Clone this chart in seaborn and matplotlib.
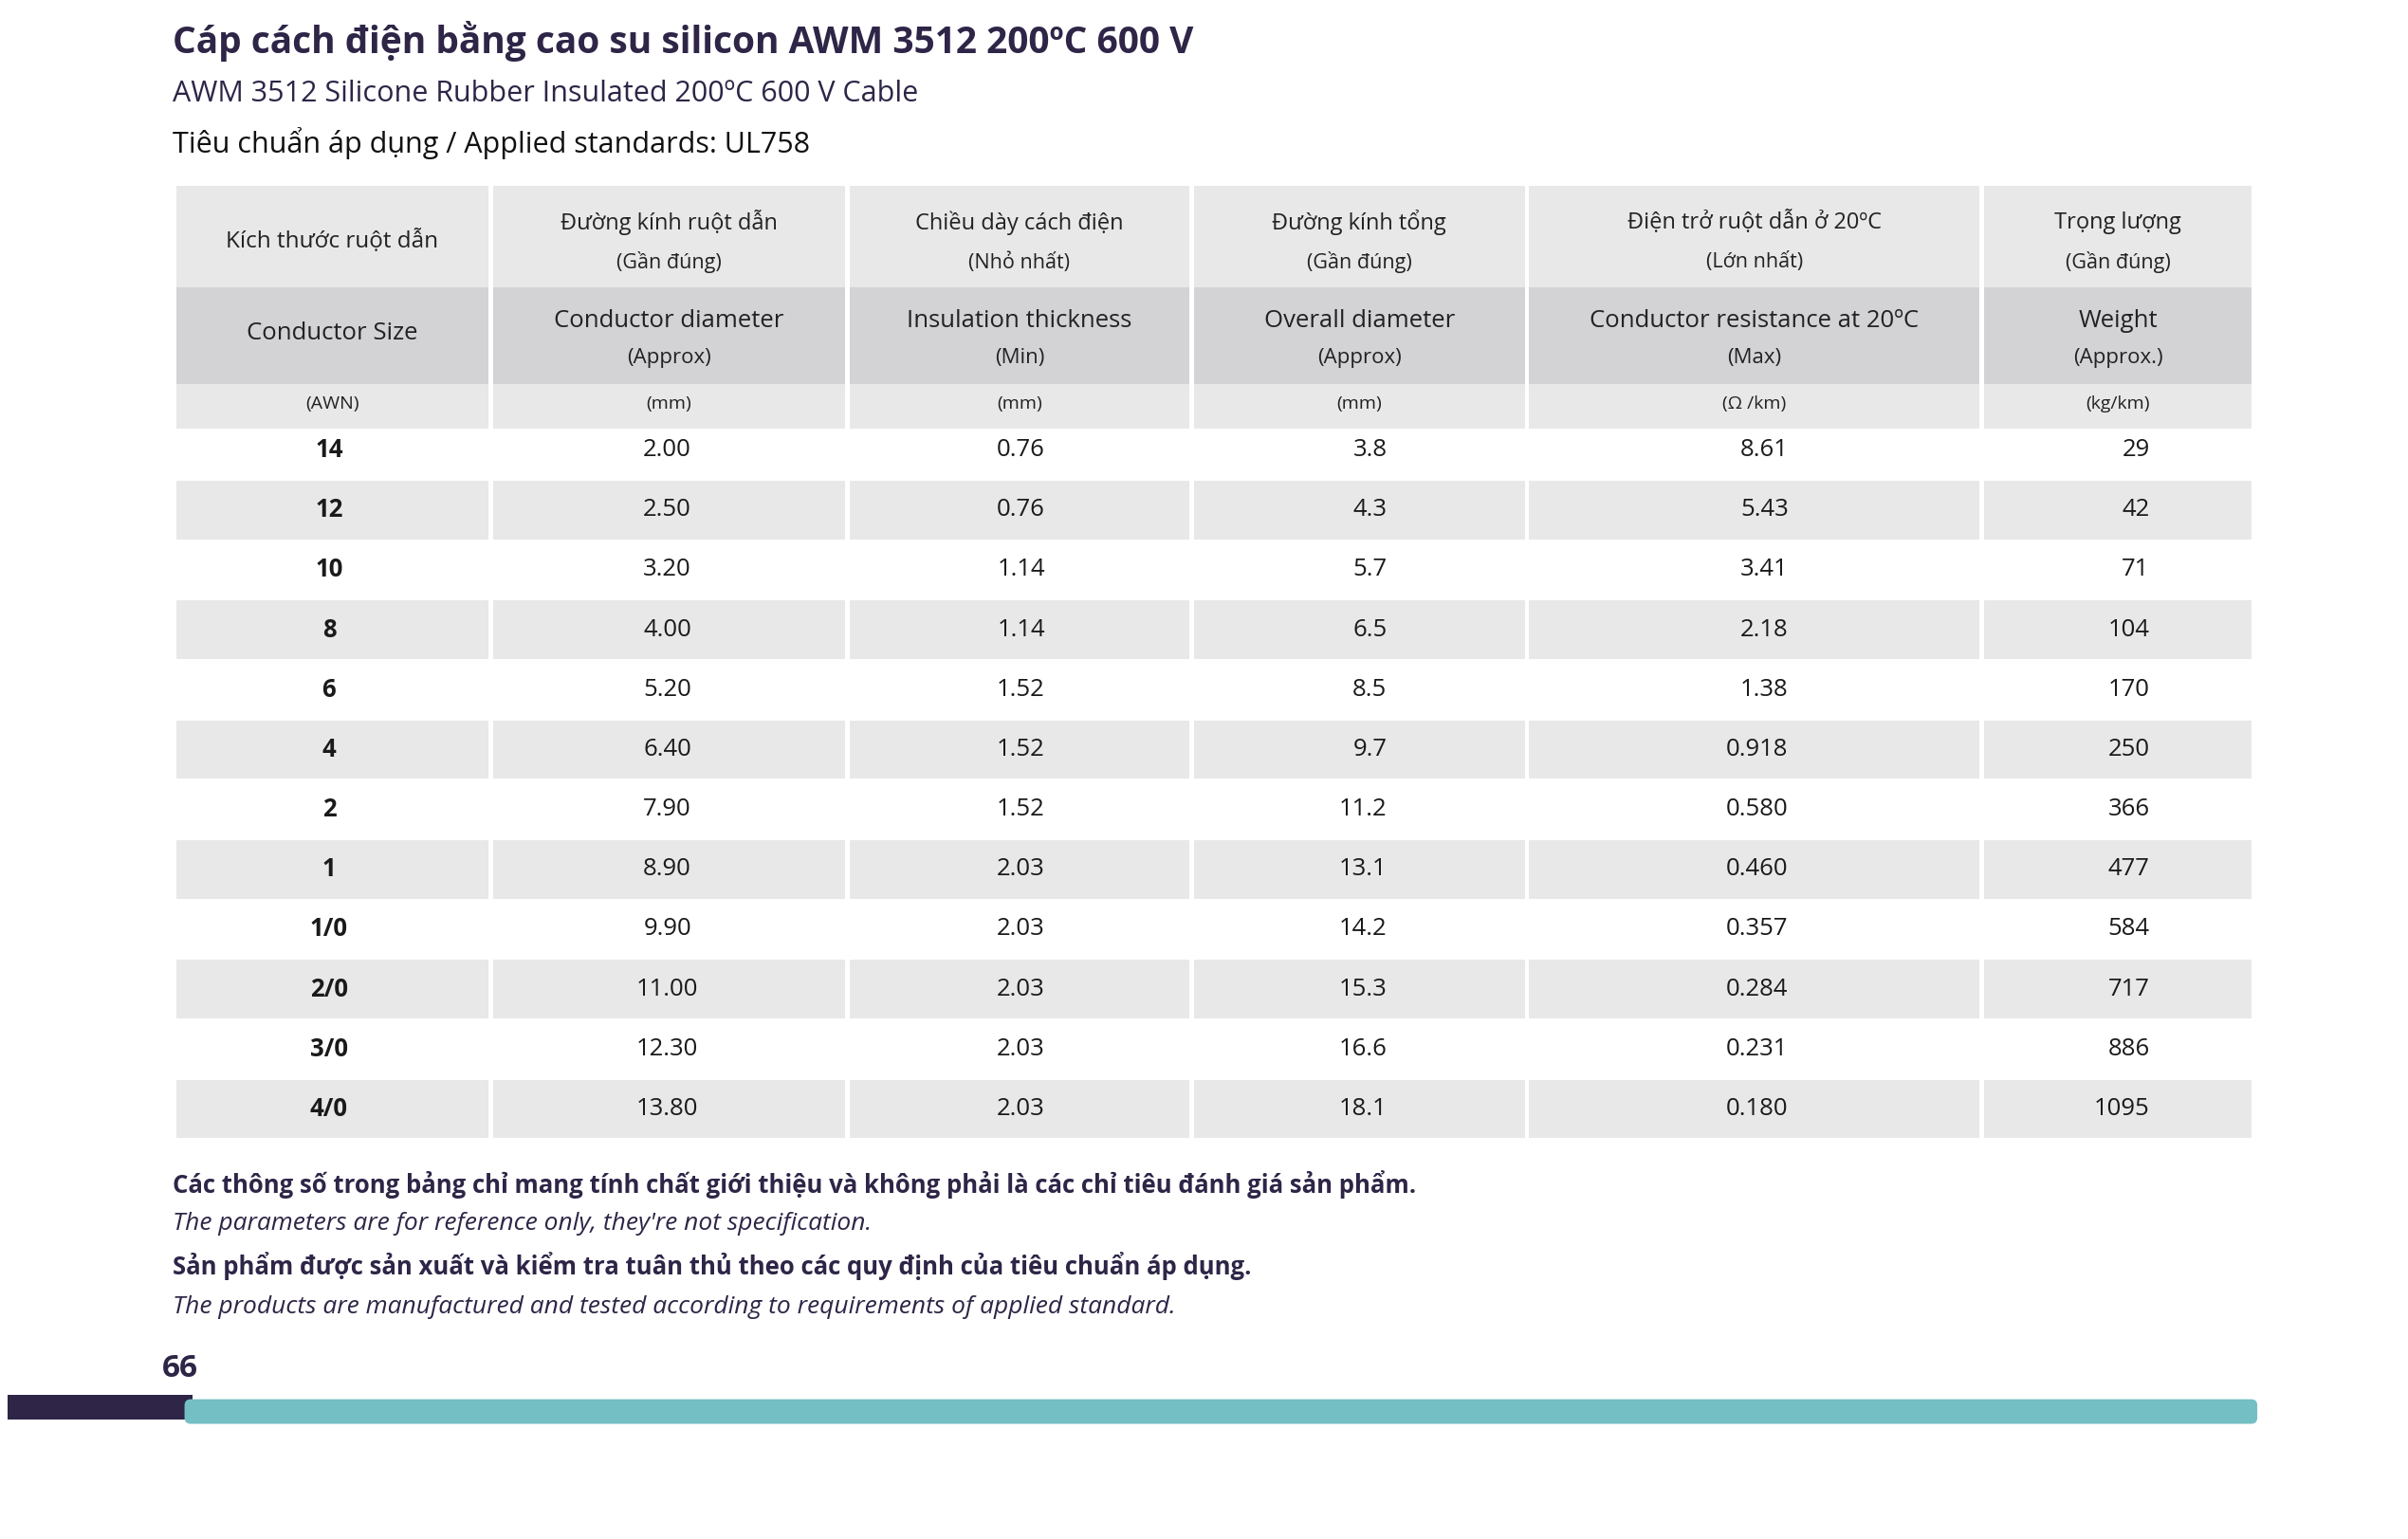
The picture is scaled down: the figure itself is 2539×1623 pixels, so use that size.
import matplotlib
matplotlib.use("Agg")
import matplotlib.pyplot as plt
from matplotlib.patches import Rectangle, FancyBboxPatch
import seaborn as sns

sns.set_theme(style="white")
plt.rcParams['font.family'] = ['Open Sans', 'Noto Sans', 'DejaVu Sans']

# ---- data ----
sizes = ["14", "12", "10", "8", "6", "4", "2", "1", "1/0", "2/0", "3/0", "4/0"]
cond_diam = ["2.00", "2.50", "3.20", "4.00", "5.20", "6.40", "7.90", "8.90", "9.90", "11.00", "12.30", "13.80"]
insul = ["0.76", "0.76", "1.14", "1.14", "1.52", "1.52", "1.52", "2.03", "2.03", "2.03", "2.03", "2.03"]
overall = ["3.8", "4.3", "5.7", "6.5", "8.5", "9.7", "11.2", "13.1", "14.2", "15.3", "16.6", "18.1"]
resist = ["8.61", "5.43", "3.41", "2.18", "1.38", "0.918", "0.580", "0.460", "0.357", "0.284", "0.231", "0.180"]
weight = ["29", "42", "71", "104", "170", "250", "366", "477", "584", "717", "886", "1095"]

head_vi = [("Kích thước ruột dẫn", ""), ("Đường kính ruột dẫn", "(Gần đúng)"),
           ("Chiều dày cách điện", "(Nhỏ nhất)"), ("Đường kính tổng", "(Gần đúng)"),
           ("Điện trở ruột dẫn ở 20ºC", "(Lớn nhất)"), ("Trọng lượng", "(Gần đúng)")]
head_en = [("Conductor Size", ""), ("Conductor diameter", "(Approx)"),
           ("Insulation thickness", "(Min)"), ("Overall diameter", "(Approx)"),
           ("Conductor resistance at 20ºC", "(Max)"), ("Weight", "(Approx.)")]
units = ["(AWN)", "(mm)", "(mm)", "(mm)", "(Ω /km)", "(kg/km)"]

col_edges = [113, 319, 551, 775, 993, 1289, 1466]
W, H = 1566, 1002
navy = "#2e2547"
light = "#e8e8e8"
mid = "#d3d3d6"

fig = plt.figure(figsize=(25.39, 16.23), dpi=100)
ax = fig.add_axes([0, 0, 1, 1])
ax.set_xlim(0, W)
ax.set_ylim(H, 0)
ax.axis("off")

# titles
ax.text(112, 27, "Cáp cách điện bằng cao su silicon AWM 3512 200ºC 600 V", fontsize=28,
        fontweight="bold", color=navy, va="center")
ax.text(112, 61, "AWM 3512 Silicone Rubber Insulated 200ºC 600 V Cable", fontsize=22,
        color=navy, va="center")
ax.text(112, 93, "Tiêu chuẩn áp dụng / Applied standards: UL758", fontsize=22,
        color="#111111", va="center")

# header bands
bands = [(121, 187, light), (187, 250, mid), (250, 279, light)]
for i in range(6):
    x0, x1 = col_edges[i] + 1.5, col_edges[i + 1] - 1.5
    xc = (col_edges[i] + col_edges[i + 1]) / 2
    for y0, y1, c in bands:
        ax.add_patch(Rectangle((x0, y0), x1 - x0, y1 - y0, color=c, lw=0))
    vi, vi2 = head_vi[i]
    en, en2 = head_en[i]
    if vi2:
        ax.text(xc, 145, vi, ha="center", va="center", fontsize=17, color="#222222")
        ax.text(xc, 171, vi2, ha="center", va="center", fontsize=15.5, color="#222222")
        ax.text(xc, 209, en, ha="center", va="center", fontsize=18.5, color="#222222")
        ax.text(xc, 233, en2, ha="center", va="center", fontsize=16, color="#222222")
    else:
        ax.text(xc, 157, vi, ha="center", va="center", fontsize=17.5, color="#222222")
        ax.text(xc, 217, en, ha="center", va="center", fontsize=18.5, color="#222222")
    ax.text(xc, 263, units[i], ha="center", va="center", fontsize=14, color="#222222")

# data rows
row_h = 39
cols = [sizes, cond_diam, insul, overall, resist, weight]
xpos = [(214, "center"), (434, "center"), (664, "center"), (902, "right"),
        (1163, "right"), (1398, "right")]
for r in range(len(sizes)):
    yc = 293 + r * row_h
    if r % 2 == 1:
        for i in range(6):
            x0, x1 = col_edges[i] + 1.5, col_edges[i + 1] - 1.5
            ax.add_patch(Rectangle((x0, yc - 19), x1 - x0, 38, color=light, lw=0))
    for i, col in enumerate(cols):
        x, ha = xpos[i]
        ax.text(x, yc, col[r], ha=ha, va="center", fontsize=18.5, color="#1a1a1a",
                fontweight="bold" if i == 0 else "normal")

# notes
ax.text(112, 771, "Các thông số trong bảng chỉ mang tính chất giới thiệu và không phải là các chỉ tiêu đánh giá sản phẩm.",
        fontsize=18.5, fontweight="bold", color=navy, va="center")
ax.text(112, 797, "The parameters are for reference only, they're not specification.",
        fontsize=19, style="italic", color=navy, va="center")
ax.text(112, 824, "Sản phẩm được sản xuất và kiểm tra tuân thủ theo các quy định của tiêu chuẩn áp dụng.",
        fontsize=18.5, fontweight="bold", color=navy, va="center")
ax.text(112, 851, "The products are manufactured and tested according to requirements of applied standard.",
        fontsize=19, style="italic", color=navy, va="center")

# footer
ax.text(117, 891, "66", fontsize=24, fontweight="bold", color=navy, ha="center", va="center")
ax.add_patch(Rectangle((5, 908), 120, 16, color=navy, lw=0))
ax.add_patch(FancyBboxPatch((120, 911), 1348, 16, boxstyle="round,pad=0,rounding_size=4",
                            color="#74bfc4", lw=0))

fig.savefig("out.png", dpi=100)
